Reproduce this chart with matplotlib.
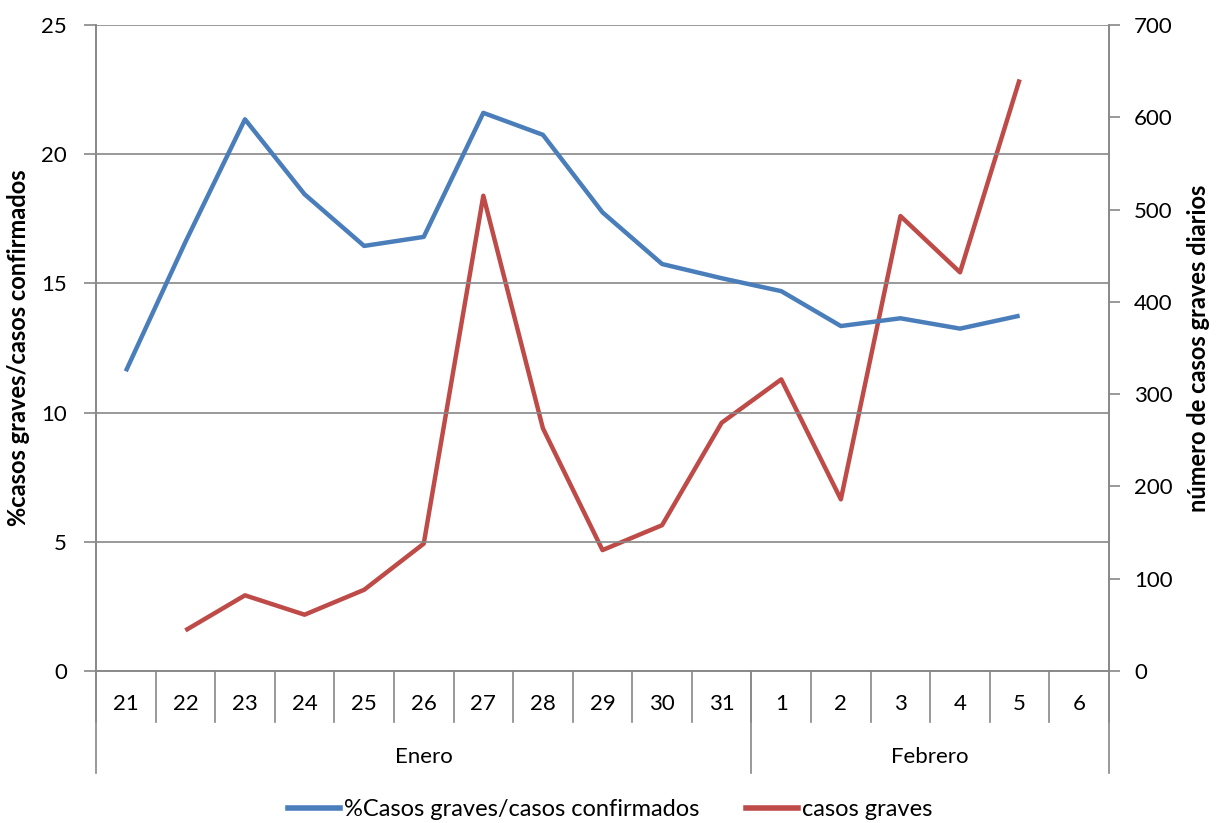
import matplotlib
matplotlib.use("Agg")
import matplotlib.pyplot as plt
import matplotlib.transforms as mtransforms
from matplotlib.lines import Line2D

days = ["21", "22", "23", "24", "25", "26", "27", "28", "29", "30", "31",
        "1", "2", "3", "4", "5", "6"]
months = ["Enero", "Febrero"]
month_sizes = [11, 6]
pct_graves = [11.6, 16.6, 21.35, 18.45, 16.45, 16.8, 21.6, 20.75, 17.75, 15.75,
              15.2, 14.7, 13.35, 13.65, 13.25, 13.75, None]
casos_graves = [None, 44, 82, 61, 88, 138, 515, 263, 131, 158, 269, 316, 186,
                493, 432, 641, None]

plt.rcParams['font.family'] = ['Lato', 'DejaVu Sans']
W, H = 1220, 823
fig = plt.figure(figsize=(W / 100, H / 100), dpi=100)
L, R, T, B = 96, 1109, 25, 671
ax = fig.add_axes([L / W, 1 - B / H, (R - L) / W, (B - T) / H])
ax2 = ax.twinx()

grid_c = "#888888"
blue = "#4A7EBB"
red = "#BE4B48"
fs = 16
fs_lab = 17

x = list(range(len(days)))
px = [i for i, v in zip(x, pct_graves) if v is not None]
pv = [v for v in pct_graves if v is not None]
cx = [i for i, v in zip(x, casos_graves) if v is not None]
cv = [v for v in casos_graves if v is not None]

ax.set_xlim(-0.5, len(days) - 0.5)
ax.set_ylim(0, 25)
ax.set_yticks(range(0, 26, 5))
ax2.set_ylim(0, 700)
ax2.set_yticks(range(0, 701, 100))
for yv in range(5, 26, 5):
    ax.axhline(yv, color=grid_c, lw=1.2, zorder=0)

ax2.plot(cx, cv, color=red, lw=3.2, solid_capstyle='butt', zorder=3)
ax.plot(px, pv, color=blue, lw=3.2, solid_capstyle='butt', zorder=4)
ax.set_zorder(ax2.get_zorder() + 1)
ax.patch.set_visible(False)

for a in (ax, ax2):
    a.spines["top"].set_visible(False)
    for s in ("left", "right", "bottom"):
        a.spines[s].set_color(grid_c)
        a.spines[s].set_linewidth(1.2)
ax.tick_params(axis='y', length=9, width=1.2, color=grid_c, labelsize=fs, pad=12)
ax2.tick_params(axis='y', length=8, width=1.2, color=grid_c, labelsize=fs, pad=10)
ax.set_xticks([])

ax.set_ylabel("%casos graves/casos confirmados", fontsize=fs_lab, fontweight='bold', labelpad=8)
ax2.set_ylabel("número de casos graves diarios", fontsize=fs_lab, fontweight='bold', labelpad=10)

# category axis
trans = mtransforms.blended_transform_factory(ax.transData, fig.transFigure)
y0 = 1 - B / H
y_day_bot = 1 - 722 / H
y_grp_bot = 1 - 773 / H
for i in range(len(days) + 1):
    xb = i - 0.5
    fig.add_artist(Line2D([xb, xb], [y0, y_day_bot], transform=trans, color=grid_c, lw=1.2))
for i, d in enumerate(days):
    fig.text(i, 1 - 704 / H, d, transform=trans, ha='center', va='center', fontsize=fs)
start = 0
bounds = [-0.5]
for m, n in zip(months, month_sizes):
    end = start + n
    bounds.append(end - 0.5)
    fig.text((start + end - 1) / 2, 1 - 757 / H, m, transform=trans,
             ha='center', va='center', fontsize=fs)
    start = end
for xb in bounds:
    fig.add_artist(Line2D([xb, xb], [y0, y_grp_bot], transform=trans, color=grid_c, lw=1.2))

handles = [Line2D([0], [0], color=blue, lw=4), Line2D([0], [0], color=red, lw=4)]
fig.legend(handles, ["%Casos graves/casos confirmados", "casos graves"],
           loc='center', bbox_to_anchor=(0.5, 1 - 810 / H), ncol=2, frameon=False,
           fontsize=fs_lab, handlelength=2.2, handletextpad=0.15, columnspacing=2.0)

fig.savefig("out.png", dpi=100)
